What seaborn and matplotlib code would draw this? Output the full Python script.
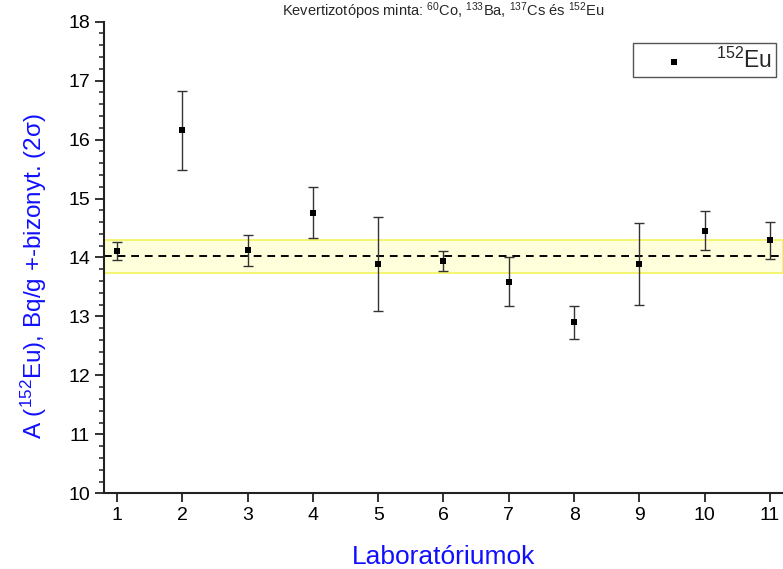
import matplotlib
matplotlib.use("Agg")
import matplotlib.pyplot as plt
from matplotlib.ticker import MultipleLocator
import pandas as pd
import seaborn as sns

labs = [1, 2, 3, 4, 5, 6, 7, 8, 9, 10, 11]
activity = [14.11, 16.16, 14.12, 14.76, 13.89, 13.94, 13.59, 12.90, 13.89, 14.45, 14.29]
uncert = [0.16, 0.67, 0.26, 0.43, 0.80, 0.17, 0.42, 0.28, 0.70, 0.33, 0.31]

# reference value and its band
ref_value = 14.02
ref_halfwidth = 0.275

df = pd.DataFrame({"lab": labs, "activity": activity, "uncert": uncert})

sns.set_theme(style="ticks")
plt.rcParams["font.family"] = ["Liberation Sans", "DejaVu Sans"]
plt.rcParams["mathtext.fontset"] = "custom"
plt.rcParams["mathtext.rm"] = "Liberation Sans"
plt.rcParams["mathtext.it"] = "Liberation Sans:italic"

fig = plt.figure(figsize=(7.83, 5.69), dpi=100)
ax = fig.add_axes([0.1328, 0.133, 0.8672, 0.829])

# reference band and dashed line
ax.axhspan(ref_value - ref_halfwidth, ref_value + ref_halfwidth,
           facecolor="#ffffdc", edgecolor="#f2f25a", linewidth=1.2, zorder=0)
ax.axhline(ref_value, color="black", ls=(0, (4, 3)), lw=1.4, zorder=1)

ax.errorbar(df["lab"], df["activity"], yerr=df["uncert"], fmt="none",
            ecolor="#333333", elinewidth=1.0, capsize=3.6, capthick=1.0, zorder=2)
sns.scatterplot(data=df, x="lab", y="activity", marker="s", s=24,
                color="black", edgecolor="black", linewidth=0,
                label="$^{152}$Eu", ax=ax, zorder=3)

ax.set_xlim(0.8, 11.2)
ax.set_ylim(10, 18)
ax.set_xticks(labs)
ax.yaxis.set_major_locator(MultipleLocator(1))
ax.yaxis.set_minor_locator(MultipleLocator(0.2))

for side in ["top", "right"]:
    ax.spines[side].set_visible(False)
for side in ["left", "bottom"]:
    ax.spines[side].set_linewidth(1.5)
    ax.spines[side].set_color("#222222")

ax.tick_params(axis="both", which="major", direction="out", length=6.5,
               width=1.3, labelsize=14, colors="#222222", labelcolor="black")
ax.tick_params(axis="y", which="minor", direction="out", length=3.5, width=1.1,
               colors="#222222")

ax.set_xlabel("Laboratóriumok", fontsize=19, color="#1010ff", va="center")
ax.xaxis.set_label_coords(0.5, -0.135)
ax.set_ylabel("A ($^{152}$Eu), Bq/g +-bizonyt. (2σ)", fontsize=17.5,
              color="#1010ff", va="center")
ax.yaxis.set_label_coords(-0.103, 0.46)
ax.set_title("Kevertizotópos minta: $^{60}$Co, $^{133}$Ba, $^{137}$Cs és $^{152}$Eu",
             fontsize=10.5, pad=3)

leg = ax.legend(loc="upper right", bbox_to_anchor=(0.99, 0.955), fontsize=16.5,
                frameon=True, fancybox=False, framealpha=1, edgecolor="#555555",
                handletextpad=0.2, borderpad=0.2, markerscale=0.8,
                handlelength=3.2, borderaxespad=0)
leg.get_frame().set_linewidth(1.0)

fig.savefig("out.png", dpi=100)
